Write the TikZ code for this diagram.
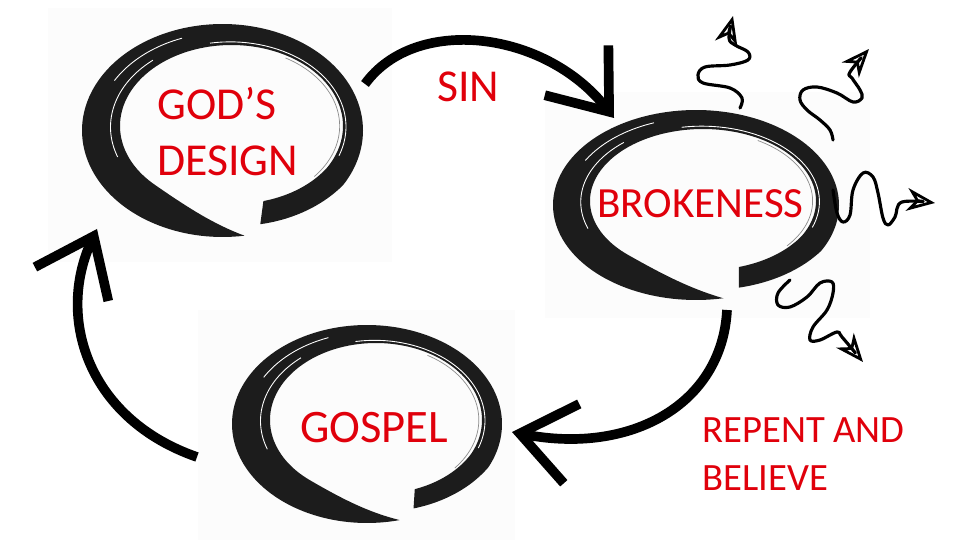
\documentclass[tikz,border=0pt]{standalone}
\usepackage{fontspec}
\setmainfont{Carlito}
\usetikzlibrary{arrows.meta}
\definecolor{myink}{HTML}{1C1C1C}
\definecolor{myred}{HTML}{E0000B}
\definecolor{mypaper}{HTML}{FCFCFC}

% brush circle: outer centre/radii, inner centre/radii, start angle
\newcommand{\enso}[9]{%
  \fill[myink] plot[domain=0:1, samples=160]
    ({#1+#3*(1-0.08*ensostart(\x))*cos(#9-352*\x)},{#2+#4*(1-0.08*ensostart(\x))*sin(#9-352*\x)})
    -- plot[domain=1:0, samples=160]
    ({(1-ensotail(\x))*(#5+#7*(1-0.03*ensostart(\x))*cos(#9-352*\x))+ensotail(\x)*(#1+#3*cos(#9-352*\x))},
     {(1-ensotail(\x))*(#6+#8*(1-0.03*ensostart(\x))*sin(#9-352*\x))+ensotail(\x)*(#2+#4*sin(#9-352*\x))})
    -- cycle;
  \foreach \f/\a/\b in {0.15/-100/20, 0.25/-200/-130, 0.6/-150/-110} {
    \draw[white, line width=0.5pt] plot[domain=\a:\b, samples=40]
      ({(1-\f)*(#5+#7*cos(\x))+\f*(#1+#3*cos(\x))},{(1-\f)*(#6+#8*sin(\x))+\f*(#2+#4*sin(\x))});
  }
  \draw[black!45, line width=0.4pt] plot[domain=-60:40, samples=40] ({#5+0.97*#7*cos(\x)},{#6+0.97*#8*sin(\x)});
}

\begin{document}
\begin{tikzpicture}[x=0.02cm, y=-0.02cm,
  declare function={ensostart(\t)=max(0,1-\t/0.12); ensotail(\t)=(max(0,(\t-0.85)/0.15))^2;},
  redtext/.style={text=myred, inner sep=0pt, anchor=base west, align=left},
  bigarrow/.style={line width=5.5pt, -{Straight Barb[sharp, length=30pt, width=46pt]}},
  wave/.style={line width=1.8pt, line cap=round, line join=round, -{Stealth[open, length=16pt, width=13pt, inset=5pt, line width=1.6pt]}}]

\useasboundingbox (0,0) rectangle (960,540);

% PICTURE BACKGROUNDS
\fill[mypaper] (48,8) rectangle (392,262);
\fill[mypaper] (545,92) rectangle (870,318);
\fill[mypaper] (198,310) rectangle (515,540);

% BRUSH CIRCLES
\enso{222.5}{130.5}{140.5}{106.5}{231.5}{126}{111.5}{81}{73}
\enso{696}{205}{143}{95}{703}{201}{113}{72}{71}
\enso{367}{424}{135}{99}{376}{420}{106}{77}{68}

% LABELS
\node[redtext, font=\fontsize{26}{32}\selectfont] (design) at (157,176) {GOD’S\\DESIGN};
\node[redtext, font=\fontsize{26}{32}\selectfont] (sin) at (437,102) {SIN};
\node[redtext, font=\fontsize{24.5}{30}\selectfont] (broken) at (597,218) {BROKENESS};
\node[redtext, font=\fontsize{26.5}{32}\selectfont] (gospel) at (300,442) {GOSPEL};
\node[redtext, font=\fontsize{22}{27}\selectfont] (repent) at (702,490) {REPENT AND\\BELIEVE};

% BIG ARROWS
\coordinate (sin-start) at (365,84);
\coordinate (sin-end) at (614,118);
\coordinate (repent-start) at (727,310);
\coordinate (repent-end) at (512,432);
\coordinate (return-start) at (197,457);
\coordinate (return-end) at (97,229);
\draw[bigarrow] (sin-start) .. controls (415,15) and (545,30) .. (sin-end);
\draw[bigarrow] (repent-start) .. controls (722,405) and (630,455) .. (repent-end);
\draw[bigarrow] (return-start) .. controls (90,420) and (55,320) .. (return-end);

% WAVES
\coordinate (wave1-start) at (740,108);
\coordinate (wave1-end) at (733,16);
\coordinate (wave2-start) at (833,140);
\coordinate (wave2-end) at (869,49);
\coordinate (wave3-start) at (833,190);
\coordinate (wave3-end) at (935,203);
\coordinate (wave4-start) at (790,280);
\coordinate (wave4-end) at (863,362);
\draw[wave] plot[smooth, tension=0.6] coordinates {(wave1-start) (742,98) (730,88) (703,83) (698,75) (705,67) (730,65) (748,60) (748,52) (735,45) (729,38) (wave1-end)};
\draw[wave] plot[smooth, tension=0.6] coordinates {(wave2-start) (830,130) (820,120) (807,110) (800,100) (803,90) (817,87) (837,93) (853,102) (862,98) (860,90) (852,78) (850,72) (wave2-end)};
\draw[wave] plot[smooth, tension=0.6] coordinates {(wave3-start) (837,213) (843,222) (850,215) (853,190) (863,173) (873,177) (878,193) (883,218) (888,225) (895,217) (902,202) (wave3-end)};
\draw[wave] plot[smooth, tension=0.6] coordinates {(wave4-start) (778,293) (778,305) (790,307) (807,297) (820,283) (832,282) (833,293) (827,310) (813,327) (810,340) (820,340) (837,332) (842,337) (wave4-end)};

\end{tikzpicture}
\end{document}
